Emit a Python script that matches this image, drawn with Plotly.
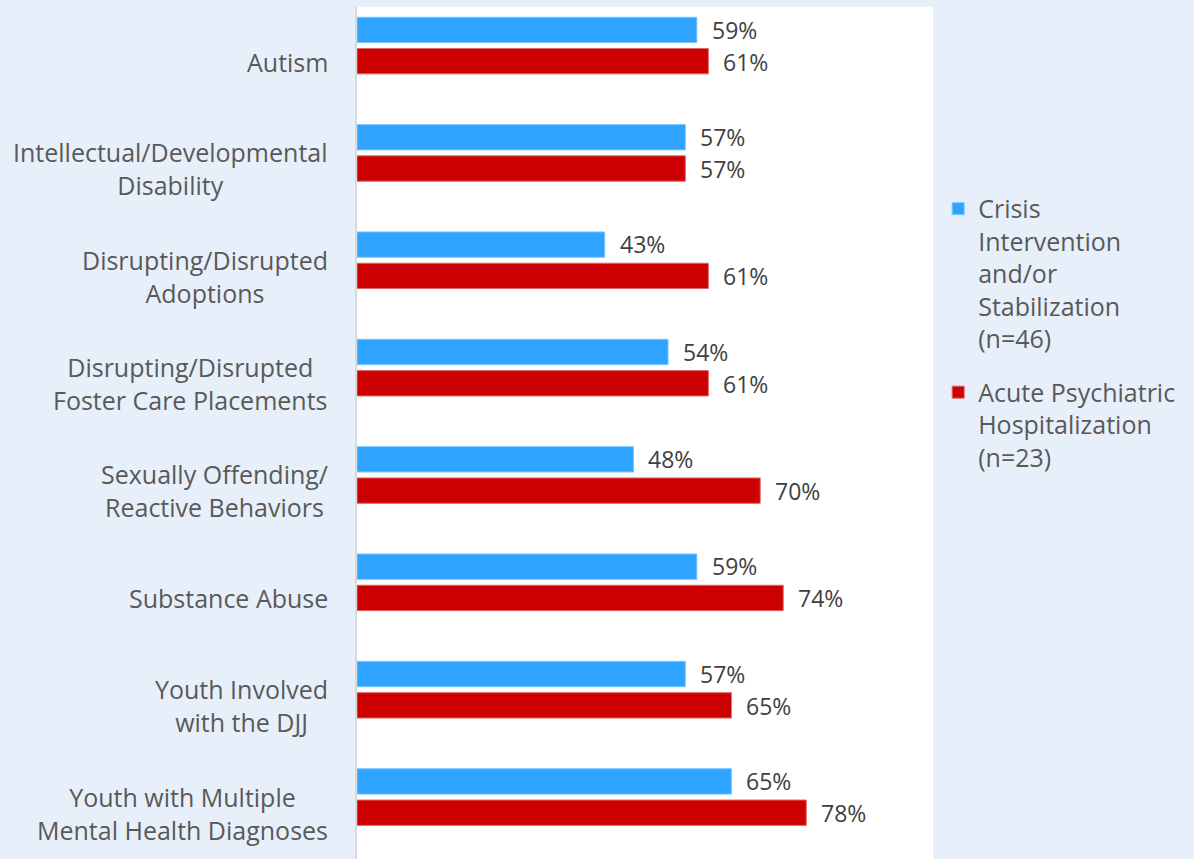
import plotly.graph_objects as go

# ── Data ─────────────────────────────────────
categories = [
    "Autism",
    "Intellectual/Developmental<br>Disability",
    "Disrupting/Disrupted<br>Adoptions",
    "Disrupting/Disrupted<br>Foster Care Placements",
    "Sexually Offending/<br>Reactive Behaviors",
    "Substance Abuse",
    "Youth Involved<br>with the DJJ",
    "Youth with Multiple<br>Mental Health Diagnoses",
]
crisis_vals = [59, 57, 43, 54, 48, 59, 57, 65]
acute_vals = [61, 57, 61, 61, 70, 74, 65, 78]

crisis_name = "Crisis<br>Intervention<br>and/or<br>Stabilization<br>(n=46)"
acute_name = "Acute Psychiatric<br>Hospitalization<br>(n=23)"

BLUE = "#2EA3FF"
RED = "#CC0000"
LABEL_GREY = "#595959"
VALUE_GREY = "#404040"
FONT = "Open Sans"

fig = go.Figure()
fig.add_trace(go.Bar(
    y=categories, x=crisis_vals, orientation="h", name=crisis_name,
    legendgroup="crisis",
    marker=dict(color=BLUE, line=dict(color="#7CC6FF", width=1)),
))
fig.add_trace(go.Bar(
    y=categories, x=acute_vals, orientation="h", name=acute_name,
    legendgroup="acute",
    marker=dict(color=RED, line=dict(color="#E06666", width=1)),
))

# ── Value labels (blue above, red below the category centre) ──
for cat, v in zip(categories, crisis_vals):
    fig.add_annotation(x=v, y=cat, text=f"{v}%", showarrow=False,
                       xanchor="left", yanchor="middle", xshift=13, yshift=16,
                       font=dict(family=FONT, size=23, color=VALUE_GREY))
for cat, v in zip(categories, acute_vals):
    fig.add_annotation(x=v, y=cat, text=f"{v}%", showarrow=False,
                       xanchor="left", yanchor="middle", xshift=13, yshift=-16,
                       font=dict(family=FONT, size=23, color=VALUE_GREY))

# ── Category labels: centred lines, block sits level with the red bar ──
for cat in categories:
    fig.add_annotation(x=0, xref="paper", y=cat, yref="y", text=cat,
                       showarrow=False, xanchor="right", yanchor="middle",
                       align="center", xshift=-27, yshift=-16,
                       font=dict(family=FONT, size=25, color=LABEL_GREY))

fig.update_layout(
    width=1194, height=859,
    paper_bgcolor="#E7F0FA", plot_bgcolor="#FFFFFF",
    margin=dict(l=357, r=261, t=7, b=0),
    barmode="group", bargap=0.417, bargroupgap=0.19,
    font=dict(family=FONT, color=LABEL_GREY),
    legend=dict(
        x=1.009, xanchor="left", y=0.79, yanchor="top",
        valign="top", traceorder="grouped",
        font=dict(family=FONT, size=25, color=LABEL_GREY),
        bgcolor="rgba(0,0,0,0)", tracegroupgap=18,
    ),
    showlegend=True,
)
fig.update_xaxes(range=[0, 100], showgrid=False, zeroline=False,
                 showticklabels=False, ticks="")
fig.update_yaxes(range=[7.577, -0.359], showgrid=False, zeroline=False,
                 showticklabels=False, ticks="",
                 showline=True, linecolor="#D9D9D9", linewidth=2)

fig.write_html("out.html", config={"displayModeBar": False},
               post_script="document.body.style.margin='0';"
                           "document.body.style.overflow='hidden';")
